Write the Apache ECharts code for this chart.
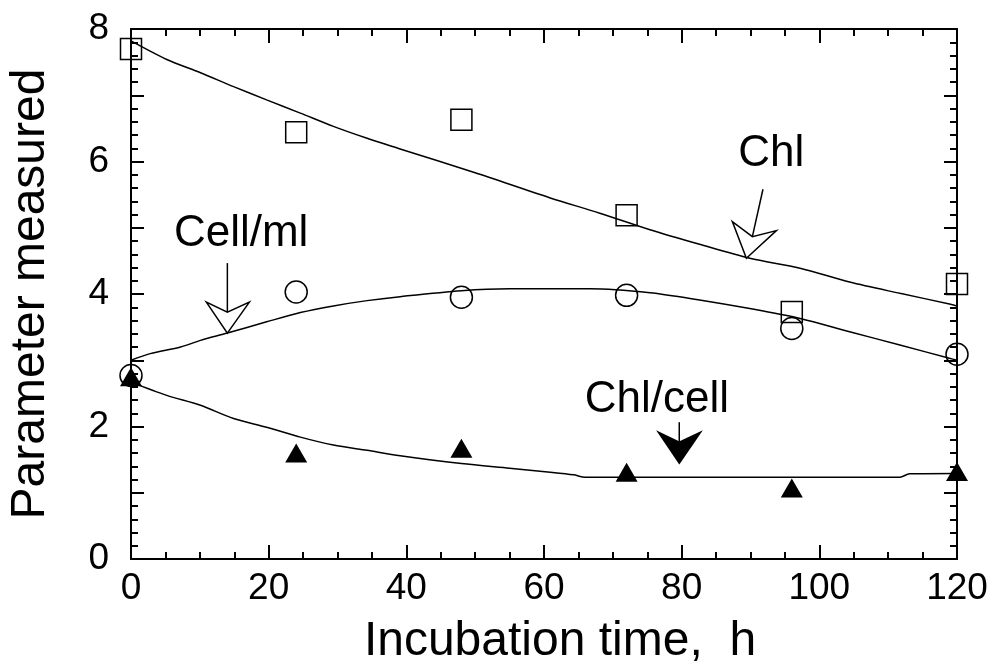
<!DOCTYPE html>
<html>
<head>
<meta charset="utf-8">
<script src="https://cdn.jsdelivr.net/npm/echarts@6/dist/echarts.min.js"></script>
<style>
  html, body { margin: 0; padding: 0; background: #fff; }
  #chart { width: 989px; height: 663px; }
</style>
</head>
<body>
<div id="chart"></div>
<script>
const FONT = "'Liberation Sans', Arial, Helvetica, sans-serif";

// Sampling times (h)
const hours = [0, 24, 48, 72, 96, 120];

// Measured values
const chl = [7.70, 6.44, 6.63, 5.19, 3.73, 4.15];
const cellsPerMl = [2.77, 4.03, 3.95, 3.98, 3.48, 3.09];
const chlPerCell = [2.75, 1.60, 1.67, 1.31, 1.07, 1.32];

// Fitted trend curves [h, value]
const chlFit = [
  [0, 7.82], [5.2, 7.54], [10.1, 7.34], [14.9, 7.13], [19.7, 6.93], [24.6, 6.73],
  [29.4, 6.53], [34.3, 6.35], [39.1, 6.19], [50, 5.83], [60.9, 5.45], [68.1, 5.22],
  [75.4, 4.97], [82.6, 4.75], [89.9, 4.54], [97.2, 4.39], [104.4, 4.18],
  [111.7, 4.01], [118.9, 3.85], [120, 3.82]
];
const cellFit = [
  [0, 3.00], [2.8, 3.10], [7.2, 3.20], [10.1, 3.30], [14.0, 3.41], [19.7, 3.58],
  [24.6, 3.72], [29.4, 3.82], [34.3, 3.90], [39.1, 3.96], [48, 4.05], [55, 4.08],
  [60.9, 4.08], [66.7, 4.08], [75.4, 4.02], [82.6, 3.91], [89.9, 3.78],
  [97.2, 3.63], [104.4, 3.43], [111.7, 3.23], [118.9, 3.03], [120, 3.00]
];
const chlPerCellFit = [
  [0, 2.67], [5.2, 2.47], [10.1, 2.32], [14.9, 2.12], [19.7, 1.99], [24.6, 1.84],
  [29.4, 1.72], [34.3, 1.64], [39.1, 1.56], [48, 1.44], [55, 1.37], [60.9, 1.31],
  [64.3, 1.27], [66, 1.235], [111.7, 1.235], [113.1, 1.285], [120, 1.29]
];

// Axis ticks
const xTicks = [0, 20, 40, 60, 80, 100, 120];
const yTicks = [0, 2, 4, 6, 8];

// Annotation labels [text, h, value] and arrow tips [h, value]
const labels = [
  ['Chl', 93.0, 6.12],
  ['Cell/ml', 16.0, 4.91],
  ['Chl/cell', 76.4, 2.40]
];
const arrowTips = {
  chl: [89.4, 4.54],
  cell: [14.0, 3.41],
  chlPerCell: [79.65, 1.446]
};

const pair = (xs, ys) => xs.map((x, i) => [x, ys[i]]);

const tickStyle = { color: '#000', width: 2 };
function baseX(position, showLabel) {
  return {
    type: 'value', position, min: xTicks[0], max: xTicks[xTicks.length - 1], interval: 20,
    axisLine: { show: true, onZero: false, lineStyle: { color: '#000', width: 2 } },
    axisTick: { show: true, inside: true, length: 14, lineStyle: tickStyle },
    minorTick: { show: true, splitNumber: 4, length: 7, lineStyle: tickStyle },
    splitLine: { show: false },
    axisLabel: { show: showLabel, fontSize: 37, color: '#000', fontFamily: FONT, margin: 11 }
  };
}
function baseY(position, showLabel) {
  return {
    type: 'value', position, min: yTicks[0], max: yTicks[yTicks.length - 1], interval: 1,
    axisLine: { show: true, onZero: false, lineStyle: { color: '#000', width: 2 } },
    axisTick: { show: true, inside: true, length: 13, lineStyle: tickStyle },
    minorTick: { show: true, splitNumber: 5, length: 7, lineStyle: tickStyle },
    splitLine: { show: false },
    axisLabel: {
      show: showLabel, fontSize: 37, color: '#000', fontFamily: FONT, margin: 22,
      formatter: v => (yTicks.indexOf(v) >= 0 ? String(v) : '')
    }
  };
}

const xMain = Object.assign(baseX('bottom', true), {
  name: 'Incubation time,  h', nameLocation: 'middle', nameGap: 59,
  nameTextStyle: { fontSize: 48, color: '#000', fontFamily: FONT, padding: [0, 0, 0, 32] }
});
const yMain = Object.assign(baseY('left', true), {
  name: 'Parameter measured', nameLocation: 'middle', nameGap: 76,
  nameTextStyle: { fontSize: 48, color: '#000', fontFamily: FONT }
});

const chart = echarts.init(document.getElementById('chart'), null, { renderer: 'canvas' });
const fitLine = data => ({
  type: 'line', data, symbol: 'none', smooth: 0.3, silent: true,
  lineStyle: { color: '#000', width: 1.5 }, z: 2
});

chart.setOption({
  animation: false,
  backgroundColor: '#fff',
  grid: { left: 131, right: 32, top: 29, bottom: 104, containLabel: false, outerBoundsMode: 'none' },
  xAxis: [xMain, baseX('top', false)],
  yAxis: [yMain, baseY('right', false)],
  series: [
    fitLine(chlFit),
    fitLine(cellFit),
    fitLine(chlPerCellFit),
    {
      type: 'scatter', name: 'Chl', data: pair(hours, chl), symbol: 'rect', symbolSize: 21,
      itemStyle: { color: 'rgba(0,0,0,0)', borderColor: '#000', borderWidth: 1.5, opacity: 1 }, z: 3
    },
    {
      type: 'scatter', name: 'Cell/ml', data: pair(hours, cellsPerMl), symbol: 'circle', symbolSize: 22,
      itemStyle: { color: 'rgba(0,0,0,0)', borderColor: '#000', borderWidth: 1.5, opacity: 1 }, z: 3
    },
    {
      type: 'scatter', name: 'Chl/cell', data: pair(hours, chlPerCell), symbol: 'triangle', symbolSize: [22, 19],
      itemStyle: { color: '#000', opacity: 1 }, z: 3
    }
  ]
});

// Annotation arrows: shapes are offsets in pixels from the arrow tip
function arrow(tipData, head, shaftTop, filled) {
  const p = chart.convertToPixel({ gridIndex: 0 }, tipData);
  const abs = pt => [p[0] + pt[0], p[1] + pt[1]];
  const notch = head[2];
  return [
    {
      type: 'line', z: 10,
      shape: { x1: abs(notch)[0], y1: abs(notch)[1], x2: abs(shaftTop)[0], y2: abs(shaftTop)[1] },
      style: { stroke: '#000', lineWidth: 1.5 }
    },
    {
      type: 'polygon', z: 10,
      shape: { points: [abs([0, 0]), abs(head[1]), abs(notch), abs(head[0])] },
      style: { fill: filled ? '#000' : '#fff', stroke: '#000', lineWidth: 1.5 }
    }
  ];
}

const graphics = [];
graphics.push(...arrow(arrowTips.chl, [[-14, -36.6], [30, -27.6], [6, -21.6]], [16.6, -69], false));
graphics.push(...arrow(arrowTips.cell, [[-21, -31], [22, -31], [0, -21]], [0, -70], false));
graphics.push(...arrow(arrowTips.chlPerCell, [[-21, -31], [21.4, -31], [0, -21]], [0, -41], true));

labels.forEach(([text, x, y]) => {
  const p = chart.convertToPixel({ gridIndex: 0 }, [x, y]);
  graphics.push({
    type: 'text', z: 10, x: p[0], y: p[1],
    style: { text, fontSize: 44, fontFamily: FONT, fill: '#000', align: 'center', verticalAlign: 'middle' }
  });
});

chart.setOption({ graphic: graphics });
</script>
</body>
</html>
